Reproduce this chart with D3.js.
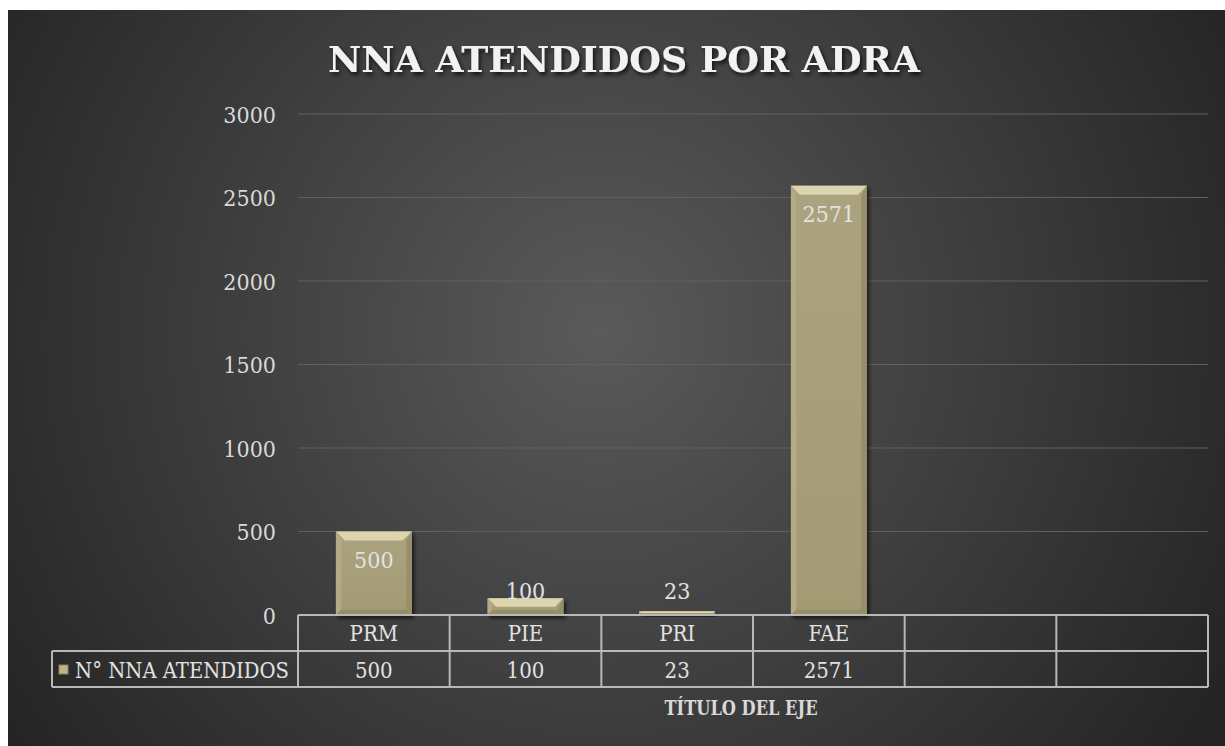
<!DOCTYPE html>
<html>
<head>
<meta charset="utf-8">
<script src="https://cdn.jsdelivr.net/npm/d3@7"></script>
<style>
  body { margin: 0; background: #fff; }
  svg text { font-family: "DejaVu Serif", "Liberation Serif", serif; font-stretch: condensed; }
</style>
</head>
<body>
<script>
let categories = ["PRM", "PIE", "PRI", "FAE", "", ""];
let values = [500, 100, 23, 2571, null, null];
let seriesName = "N° NNA ATENDIDOS";
let yTicks = [0, 500, 1000, 1500, 2000, 2500, 3000];
let chartTitle = "NNA ATENDIDOS POR ADRA";
let axisTitle = "TÍTULO DEL EJE";

let w = 1225, h = 746;
let plotLeft = 298, plotRight = 1208, plotTop = 114, plotBottom = 615;
let rowH = 36;

let svg = d3.select("body").append("svg").attr("width", w).attr("height", h);
let defs = svg.append("defs");

let bg = defs.append("radialGradient").attr("id", "bg")
  .attr("gradientUnits", "userSpaceOnUse")
  .attr("cx", 600).attr("cy", 330).attr("r", 720);
bg.append("stop").attr("offset", "0%").attr("stop-color", "#5a5a5a");
bg.append("stop").attr("offset", "100%").attr("stop-color", "#242424");

let shadow = defs.append("filter").attr("id", "shadow").attr("x", "-10%").attr("y", "-30%").attr("width", "120%").attr("height", "160%");
shadow.append("feDropShadow").attr("dx", 2).attr("dy", 3).attr("stdDeviation", 2).attr("flood-color", "#000").attr("flood-opacity", 0.7);

let barGrad = defs.append("linearGradient").attr("id", "barGrad").attr("x1", 0).attr("x2", 0).attr("y1", 0).attr("y2", 1);
barGrad.append("stop").attr("offset", "0%").attr("stop-color", "#aba37f");
barGrad.append("stop").attr("offset", "100%").attr("stop-color", "#a49b75");

svg.append("rect").attr("x", 8).attr("y", 10).attr("width", w - 8).attr("height", h - 10).attr("fill", "url(#bg)");

let x = d3.scaleBand().domain(d3.range(categories.length)).range([plotLeft, plotRight]);
let y = d3.scaleLinear().domain([0, 3000]).range([plotBottom, plotTop]);

// gridlines
svg.append("g").selectAll("line").data(yTicks.slice(1)).enter().append("line")
  .attr("x1", plotLeft).attr("x2", plotRight)
  .attr("y1", d => y(d)).attr("y2", d => y(d))
  .attr("stroke", "#606060").attr("stroke-width", 1.2);

// y axis labels
let yAxis = d3.axisLeft(y).tickValues(yTicks).tickFormat(d3.format("d")).tickSize(0).tickPadding(22);
let ya = svg.append("g").attr("transform", "translate(" + plotLeft + ",0)").call(yAxis);
ya.select(".domain").remove();
ya.selectAll("text").attr("fill", "#d9d9d9").style("font-size", "23px").attr("dy", "0.35em");

// bars
let bw = x.bandwidth() * 0.5;
let barData = values.map((v, i) => ({v: v, i: i})).filter(d => d.v != null);
let bars = svg.append("g").selectAll("g").data(barData)
  .enter().append("g").attr("filter", "url(#shadow)");

bars.each(function(d) {
  let g = d3.select(this);
  let x0 = x(d.i) + (x.bandwidth() - bw) / 2, x1 = x0 + bw;
  let y0 = y(d.v), y1 = y(0);
  let b = Math.min(9, (y1 - y0) / 2);
  g.append("rect").attr("x", x0).attr("y", y0).attr("width", bw).attr("height", y1 - y0).attr("fill", "url(#barGrad)");
  // bevel: top, left, right, bottom
  g.append("polygon").attr("points", [[x0, y0], [x1, y0], [x1 - b, y0 + b], [x0 + b, y0 + b]].join(" ")).attr("fill", "#dcd5ad");
  g.append("polygon").attr("points", [[x0, y0], [x0 + b * 0.6, y0 + b], [x0 + b * 0.6, y1 - b * 0.6], [x0, y1]].join(" ")).attr("fill", "#b2ab86");
  g.append("polygon").attr("points", [[x1, y0], [x1, y1], [x1 - b * 0.6, y1 - b * 0.6], [x1 - b * 0.6, y0 + b]].join(" ")).attr("fill", "#978f6b");
  g.append("polygon").attr("points", [[x0, y1], [x1, y1], [x1 - b * 0.6, y1 - b * 0.6], [x0 + b * 0.6, y1 - b * 0.6]].join(" ")).attr("fill", "#968e69");
});

// data labels
svg.append("g").selectAll("text").data(barData)
  .enter().append("text")
  .attr("x", d => x(d.i) + x.bandwidth() / 2)
  .attr("y", d => (y(0) - y(d.v)) > 45 ? y(d.v) + 36 : 599)
  .attr("text-anchor", "middle")
  .attr("fill", "#e2e2e2")
  .style("font-size", "23px")
  .text(d => d.v);

// data table
let tbl = svg.append("g").attr("stroke", "#b8b8b8").attr("stroke-width", 2).attr("fill", "none");
tbl.append("line").attr("x1", plotLeft).attr("x2", plotRight).attr("y1", plotBottom).attr("y2", plotBottom);
tbl.append("line").attr("x1", 52).attr("x2", plotRight).attr("y1", plotBottom + rowH).attr("y2", plotBottom + rowH);
tbl.append("line").attr("x1", 52).attr("x2", plotRight).attr("y1", plotBottom + 2 * rowH).attr("y2", plotBottom + 2 * rowH);
tbl.append("line").attr("x1", 52).attr("x2", 52).attr("y1", plotBottom + rowH).attr("y2", plotBottom + 2 * rowH);
tbl.selectAll(".v").data(d3.range(categories.length + 1)).enter().append("line")
  .attr("x1", i => i < categories.length ? x(i) : plotRight)
  .attr("x2", i => i < categories.length ? x(i) : plotRight)
  .attr("y1", plotBottom).attr("y2", plotBottom + 2 * rowH);

svg.append("g").selectAll("text").data(categories).enter().append("text")
  .attr("x", (d, i) => x(i) + x.bandwidth() / 2)
  .attr("y", plotBottom + 26)
  .attr("text-anchor", "middle").attr("fill", "#e2e2e2").style("font-size", "22px")
  .text(d => d);

svg.append("g").selectAll("text").data(values).enter().append("text")
  .attr("x", (d, i) => x(i) + x.bandwidth() / 2)
  .attr("y", plotBottom + rowH + 27)
  .attr("text-anchor", "middle").attr("fill", "#e2e2e2").style("font-size", "22px")
  .text(d => d == null ? "" : d);

// legend key
svg.append("rect").attr("x", 59).attr("y", plotBottom + rowH + 14).attr("width", 9).attr("height", 9).attr("fill", "#bdb48c").attr("stroke", "#8c845f").attr("stroke-width", 1);
svg.append("text").attr("x", 75).attr("y", plotBottom + rowH + 27)
  .attr("fill", "#e2e2e2").style("font-size", "22px")
  .attr("textLength", 214).attr("lengthAdjust", "spacingAndGlyphs")
  .text(seriesName);

// axis title
svg.append("text").attr("x", (plotLeft + plotRight) / 2 - 12).attr("y", 715)
  .attr("text-anchor", "middle").attr("fill", "#d9d9d9")
  .style("font-size", "21px").style("font-weight", "bold")
  .attr("textLength", 153).attr("lengthAdjust", "spacingAndGlyphs")
  .text(axisTitle);

// chart title
svg.append("text").attr("x", 624).attr("y", 72)
  .attr("text-anchor", "middle").attr("fill", "#f2f2f2")
  .style("font-size", "36px").style("font-weight", "bold")
  .attr("textLength", 592).attr("lengthAdjust", "spacingAndGlyphs")
  .attr("filter", "url(#shadow)")
  .text(chartTitle);
</script>
</body>
</html>
